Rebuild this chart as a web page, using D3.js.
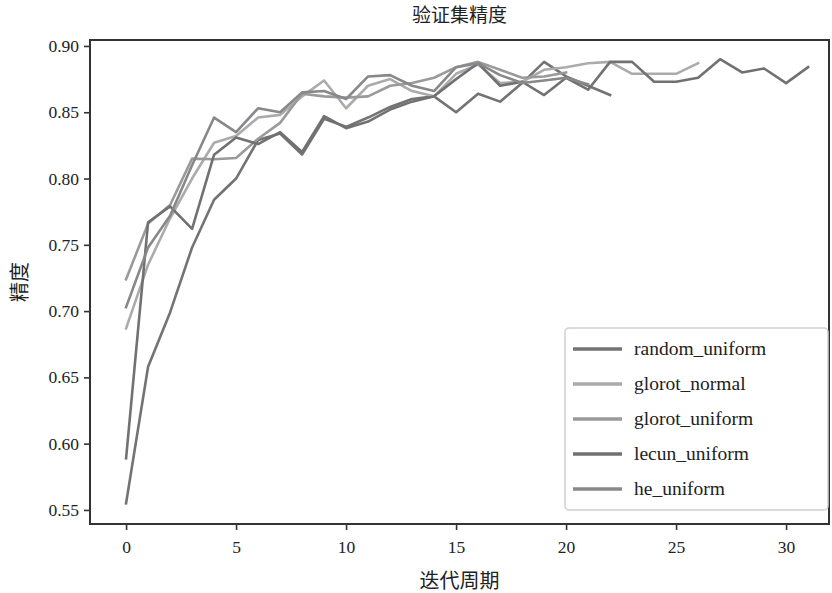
<!DOCTYPE html>
<html>
<head>
<meta charset="utf-8">
<script src="https://cdn.jsdelivr.net/npm/d3@7/dist/d3.min.js"></script>
<style>
  html, body { margin: 0; padding: 0; background: #fff; }
  svg text { font-family: "Liberation Serif", "Times New Roman", "Noto Sans CJK SC", serif; fill: #222; }
</style>
</head>
<body>
<svg id="chart" width="832" height="593"></svg>
<script>
// Validation accuracy per epoch for each weight initialiser
const seriesNames = ["random_uniform", "glorot_normal", "glorot_uniform", "lecun_uniform", "he_uniform"];
const randomUniform = [0.555, 0.658, 0.699, 0.748, 0.784, 0.800, 0.829, 0.834, 0.818, 0.845, 0.839, 0.846, 0.854, 0.860, 0.862, 0.850, 0.864, 0.858, 0.872, 0.888, 0.877, 0.870, 0.863];
const glorotNormal = [0.687, 0.735, 0.770, 0.800, 0.827, 0.832, 0.846, 0.848, 0.862, 0.874, 0.853, 0.870, 0.875, 0.866, 0.862, 0.879, 0.886, 0.872, 0.873, 0.882, 0.884, 0.887, 0.888, 0.879, 0.879, 0.879, 0.887];
const glorotUniform = [0.724, 0.766, 0.780, 0.815, 0.8145, 0.8155, 0.830, 0.842, 0.864, 0.862, 0.861, 0.862, 0.870, 0.872, 0.876, 0.884, 0.888, 0.882, 0.876, 0.877, 0.880];
const lecunUniform = [0.589, 0.767, 0.779, 0.762, 0.818, 0.831, 0.826, 0.835, 0.820, 0.847, 0.838, 0.843, 0.852, 0.858, 0.862, 0.875, 0.887, 0.870, 0.873, 0.863, 0.876, 0.867, 0.888, 0.888, 0.873, 0.873, 0.876, 0.890, 0.880, 0.883, 0.872, 0.884];
const heUniform = [0.703, 0.748, 0.772, 0.810, 0.846, 0.835, 0.853, 0.850, 0.865, 0.866, 0.860, 0.877, 0.878, 0.870, 0.866, 0.884, 0.887, 0.878, 0.872, 0.874, 0.876, 0.871];
const xTicks = [0, 5, 10, 15, 20, 25, 30];
const yTicks = [0.55, 0.60, 0.65, 0.70, 0.75, 0.80, 0.85, 0.90];
const titleText = "验证集精度";
const xLabel = "迭代周期";
const yLabel = "精度";

const seriesValues = [randomUniform, glorotNormal, glorotUniform, lecunUniform, heUniform];
const seriesColors = ["#737377", "#ababab", "#9a9a9a", "#717171", "#88888c"];

const svg = d3.select("#chart");
const plot = { left: 90, right: 829, top: 40, bottom: 524 };

const x = d3.scaleLinear().domain([-1.64, 31.95]).range([plot.left, plot.right]);
const y = d3.scaleLinear().domain([0.5394, 0.9045]).range([plot.bottom, plot.top]);

// Lines
const line = d3.line()
  .x((d, i) => x(i))
  .y(d => y(d));

const lineG = svg.append("g");
seriesValues.forEach((vals, k) => {
  lineG.append("path")
    .datum(vals)
    .attr("d", line)
    .attr("fill", "none")
    .attr("stroke", seriesColors[k])
    .attr("stroke-width", 2.6)
    .attr("stroke-linejoin", "round")
    .attr("stroke-linecap", "square");
});

// Axes
const xAxis = d3.axisBottom(x).tickValues(xTicks).tickFormat(d3.format("d")).tickSize(6).tickPadding(11);
const yAxis = d3.axisLeft(y).tickValues(yTicks).tickFormat(d3.format(".2f")).tickSize(6).tickPadding(5);

const gx = svg.append("g").attr("transform", `translate(0,${plot.bottom})`).call(xAxis);
const gy = svg.append("g").attr("transform", `translate(${plot.left},0)`).call(yAxis);
[gx, gy].forEach(g => {
  g.select(".domain").remove();
  g.selectAll(".tick line").attr("stroke", "#333").attr("stroke-width", 1.6);
  g.selectAll(".tick text").attr("font-size", 17.5).attr("fill", "#222")
    .style("font-family", "'Liberation Serif', 'Times New Roman', serif");
});

// Frame
svg.append("rect")
  .attr("x", plot.left).attr("y", plot.top)
  .attr("width", plot.right - plot.left).attr("height", plot.bottom - plot.top)
  .attr("fill", "none").attr("stroke", "#333").attr("stroke-width", 2);

// Titles
svg.append("text").attr("x", (plot.left + plot.right) / 2).attr("y", 22)
  .attr("text-anchor", "middle").attr("font-size", 19).text(titleText);
svg.append("text").attr("x", (plot.left + plot.right) / 2).attr("y", 588)
  .attr("text-anchor", "middle").attr("font-size", 20).text(xLabel);
svg.append("text")
  .attr("transform", `translate(27,${(plot.top + plot.bottom) / 2}) rotate(-90)`)
  .attr("text-anchor", "middle").attr("font-size", 20).text(yLabel);

// Legend
const legend = svg.append("g").attr("transform", "translate(565,328)");
legend.append("rect").attr("x", 0).attr("y", 0).attr("width", 263).attr("height", 182)
  .attr("rx", 4).attr("fill", "#fff").attr("stroke", "#cfcfcf").attr("stroke-width", 1.5);
seriesNames.forEach((name, k) => {
  const row = legend.append("g").attr("transform", `translate(0,${21 + k * 35})`);
  row.append("line").attr("x1", 8).attr("x2", 57).attr("y1", 0).attr("y2", 0)
    .attr("stroke", seriesColors[k]).attr("stroke-width", 3.5);
  row.append("text").attr("x", 69).attr("y", 6).attr("font-size", 19.5).text(name);
});
</script>
</body>
</html>
